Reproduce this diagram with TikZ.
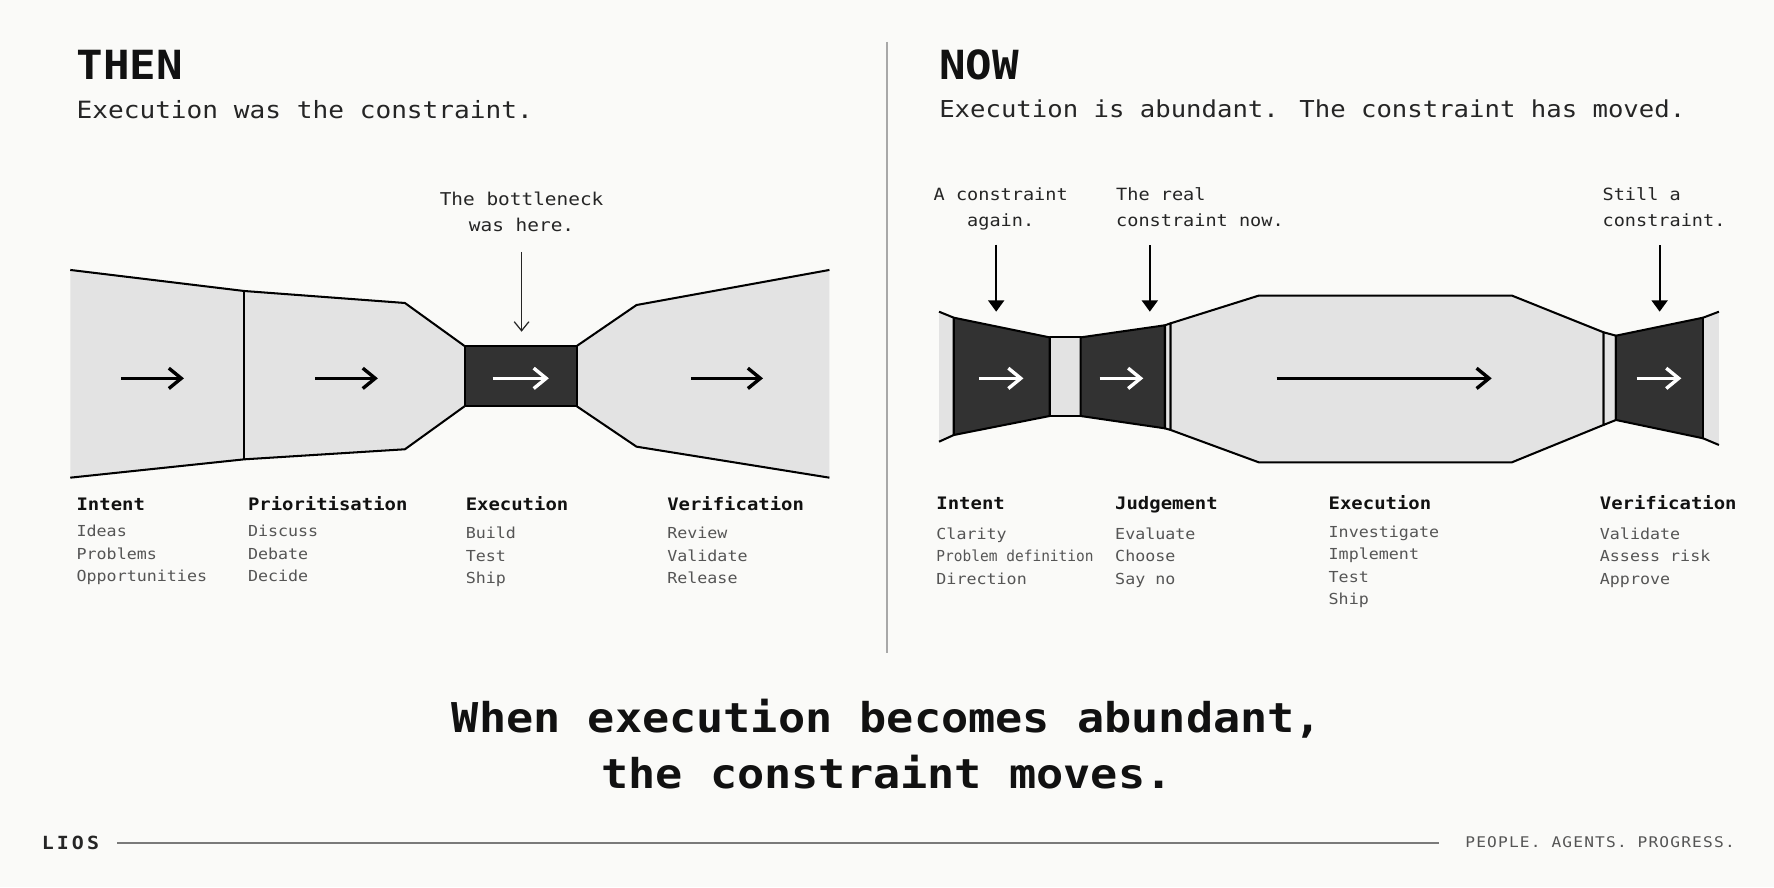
\documentclass[tikz,border=0pt]{standalone}
\usepackage{fontspec}
\setmainfont{DejaVu Sans Mono}[FakeStretch=1.1]
\usepackage{tikz}
\usetikzlibrary{positioning}
\usetikzlibrary{arrows.meta}
\definecolor{paper}{HTML}{FAFAF8}
\definecolor{funnellight}{HTML}{E3E3E3}
\definecolor{funneldark}{HTML}{323232}
\definecolor{inkblack}{HTML}{111111}
\definecolor{inkdark}{HTML}{252525}
\definecolor{itemgray}{HTML}{555555}
\definecolor{rulegray}{HTML}{7A7A7A}
\definecolor{dividergray}{HTML}{A8A8A8}
\tikzstyle{heading} = [anchor=base west, inner sep=0pt, text=inkblack,
                font=\fontsize{35.5}{40}\selectfont\bfseries]
\tikzstyle{subline} = [anchor=base west, inner sep=0pt, text=inkdark,
                font=\fontsize{21}{25}\selectfont]
\tikzstyle{stagehead} = [anchor=base west, inner sep=0pt, text=inkblack,
                font=\fontsize{15.2}{18}\selectfont\bfseries]
\tikzstyle{stageitem} = [anchor=base west, inner sep=0pt, text=itemgray, align=left,
                font=\fontsize{13.4}{19.9}\selectfont]
\tikzstyle{note} = [inner sep=0pt, text=inkdark, font=\fontsize{14.9}{22.2}\selectfont]
\tikzstyle{funnelline} = [draw=black, line width=1.8pt, line join=round]
\tikzstyle{flowarrow} = [draw, line width=3pt, -{Straight Barb[length=11pt,width=18pt]}]
\tikzstyle{pointer} = [draw=black, line width=2pt, -{Triangle[length=10pt,width=14pt]}]
\tikzstyle{thinpointer} = [draw=inkdark, line width=1.1pt, -{Straight Barb[length=8pt,width=13pt]}]
\tikzstyle{footrule} = [draw=rulegray, line width=1.8pt]
\begin{document}
\begin{tikzpicture}[x=1pt, y=-1pt]
        \fill[paper] (0,0) rectangle (1568,784);
        \useasboundingbox (0,0) rectangle (1568,784);
        \draw[dividergray, line width=1pt] (784,37) -- (784,577);

        % THEN panel
        \node[heading] (then) at (67.5,70.7) {THEN};
        \node[subline] (thensub) at (67.5,104.6) {Execution was the constraint.};
        \fill[funnellight] (62.1,238.6) -- (215.8,257.2) -- (357.9,267.8) -- (410.6,305.8)
            -- (410.6,359.1) -- (357.9,397.1) -- (215.8,406) -- (62.1,422.2) -- cycle;
        \fill[funnellight] (509.8,305.8) -- (562.6,269.6) -- (733.1,238.6)
            -- (733.1,422.2) -- (562.6,394.8) -- (509.8,359.1) -- cycle;
        \draw[funnelline] (62.1,238.6) -- (215.8,257.2) -- (357.9,267.8) -- (410.6,305.8);
        \draw[funnelline] (62.1,422.2) -- (215.8,406) -- (357.9,397.1) -- (410.6,359.1);
        \draw[funnelline] (215.8,257.2) -- (215.8,406);
        \draw[funnelline, fill=funneldark] (410.6,305.8) rectangle (509.8,359.1);
        \draw[funnelline] (509.8,305.8) -- (562.6,269.6) -- (733.1,238.6);
        \draw[funnelline] (509.8,359.1) -- (562.6,394.8) -- (733.1,422.2);
        \draw[flowarrow, black] (107.1,334.4) -- (162.6,334.4);
        \draw[flowarrow, black] (278.5,334.4) -- (334,334.4);
        \draw[flowarrow, white] (435.5,334.4) -- (485.1,334.4);
        \draw[flowarrow, black] (610.8,334.4) -- (674.4,334.4);
        \node[note, anchor=base, align=center, font=\fontsize{15.6}{22.2}\selectfont] (bneck) at (461,204.2) {The bottleneck\\was here.};
        \coordinate (bnecktip) at (461,293.2);
        \draw[thinpointer, shorten <=18pt] (bneck.south -| bnecktip) -- (bnecktip);

        \node[stagehead] (intentL) at (67.5,450.8) {Intent};
        \node[stageitem] (intentLitems) at ([yshift=-63.3pt]intentL.base west) {Ideas\\Problems\\Opportunities};
        \node[stagehead] (prio) at (219,450.8) {Prioritisation};
        \node[stageitem] (prioitems) at ([yshift=-63.3pt]prio.base west) {Discuss\\Debate\\Decide};
        \node[stagehead] (execL) at (411.5,450.8) {Execution};
        \node[stageitem] (execLitems) at ([yshift=-65.3pt]execL.base west) {Build\\Test\\Ship};
        \node[stagehead] (verifL) at (589.6,450.8) {Verification};
        \node[stageitem] (verifLitems) at ([yshift=-65.3pt]verifL.base west) {Review\\Validate\\Release};

        % NOW panel
        \node[heading] (now) at (830,70.2) {NOW};
        \node[subline, font=\fontsize{20.6}{25}\selectfont] (nowsub) at (830,103.8) {Execution is abundant. The constraint has moved.};
        \fill[funnellight] (830,275.5) -- (843,280.8) -- (843,384.5) -- (830,390.4) -- cycle;
        \draw[funnelline] (830,275.5) -- (843,280.8);
        \draw[funnelline] (830,390.4) -- (843,384.5);
        \draw[funnelline, fill=funneldark] (843,280.8) -- (927.7,298.2) -- (927.7,367.7) -- (843,384.5) -- cycle;
        \draw[funnelline, fill=funnellight] (927.7,298.2) rectangle (955.2,367.7);
        \draw[funnelline, fill=funneldark] (955.2,298.2) -- (1029.7,287.5) -- (1029.7,378.6) -- (955.2,367.7) -- cycle;
        \draw[funnelline, fill=funnellight] (1029.7,287.5) -- (1034.6,285.8) -- (1034.6,380) -- (1029.7,378.6) -- cycle;
        \draw[funnelline, fill=funnellight] (1034.6,285.8) -- (1112.5,261.3) -- (1336.4,261.3) -- (1417.3,293.7)
            -- (1417.3,375.6) -- (1336.4,408.6) -- (1112.5,408.6) -- (1034.6,380) -- cycle;
        \draw[funnelline, fill=funnellight] (1417.3,293.7) -- (1428.3,296.7) -- (1428.3,371.2) -- (1417.3,375.6) -- cycle;
        \draw[funnelline, fill=funneldark] (1428.3,296.7) -- (1505.3,280.8) -- (1505.3,387.4) -- (1428.3,371.2) -- cycle;
        \fill[funnellight] (1505.3,280.8) -- (1519.3,275.5) -- (1519.3,393.3) -- (1505.3,387.4) -- cycle;
        \draw[funnelline] (1505.3,280.8) -- (1519.3,275.5);
        \draw[funnelline] (1505.3,387.4) -- (1519.3,393.3);
        \draw[funnelline] (1505.3,280.8) -- (1505.3,387.4);
        \draw[flowarrow, white] (865.1,334.4) -- (904.6,334.4);
        \draw[flowarrow, white] (972,334.4) -- (1010.5,334.4);
        \draw[flowarrow, black] (1128.4,334.4) -- (1318.5,334.4);
        \draw[flowarrow, white] (1446.6,334.4) -- (1486.1,334.4);

        \node[note, anchor=base, align=center] (again) at (884.5,199.8) {A constraint\\again.};
        \node[note, anchor=base west, align=left] (realone) at (986.4,199.8) {The real\\constraint now.};
        \node[note, anchor=base west, align=left] (still) at (1416.3,199.8) {Still a\\constraint.};
        \coordinate (againtip) at (880.5,275.5);
        \coordinate (realtip) at (1016.3,275.5);
        \coordinate (stilltip) at (1466.9,275.5);
        \draw[pointer, shorten <=13pt] (again.south -| againtip) -- (againtip);
        \draw[pointer, shorten <=16.7pt] (realone.south -| realtip) -- (realtip);
        \draw[pointer, shorten <=16.7pt] (still.south -| stilltip) -- (stilltip);

        \node[stagehead] (intentR) at (827.5,450.5) {Intent};
        \node[stageitem] (intentRitems) at ([yshift=-65.8pt]intentR.base west) {Clarity\\\scalebox{0.87}[1]{Problem definition}\\Direction};
        \node[stagehead] (judge) at (985.5,450.5) {Judgement};
        \node[stageitem] (judgeitems) at ([yshift=-65.8pt]judge.base west) {Evaluate\\Choose\\Say no};
        \node[stagehead] (execR) at (1174.2,450.5) {Execution};
        \node[stageitem] (execRitems) at ([yshift=-84.2pt]execR.base west) {Investigate\\Implement\\Test\\Ship};
        \node[stagehead] (verifR) at (1413.9,450.5) {Verification};
        \node[stageitem] (verifRitems) at ([yshift=-65.8pt]verifR.base west) {Validate\\Assess risk\\Approve};

        % closing line and footer
        \node[anchor=base, align=center, inner sep=0pt, text=inkblack,
            font=\fontsize{36.3}{49.2}\selectfont\bfseries] (moral) at (784,696.8)
            {When execution becomes abundant,\\the constraint moves.};
        \node[anchor=base west, inner sep=0pt, text=inkdark,
            font=\fontsize{16}{18}\selectfont\bfseries\addfontfeatures{LetterSpace=17}] (lios) at (36.8,750.7) {LIOS};
        \node[anchor=base east, inner sep=0pt, text=itemgray,
            font=\fontsize{13}{15}\selectfont\addfontfeatures{LetterSpace=8}] (motto) at (1533.5,748.9) {PEOPLE. AGENTS. PROGRESS.};
        \draw[footrule, shorten <=16pt, shorten >=23pt] (lios.east) -- (lios.east -| motto.west);
\end{tikzpicture}
\end{document}
